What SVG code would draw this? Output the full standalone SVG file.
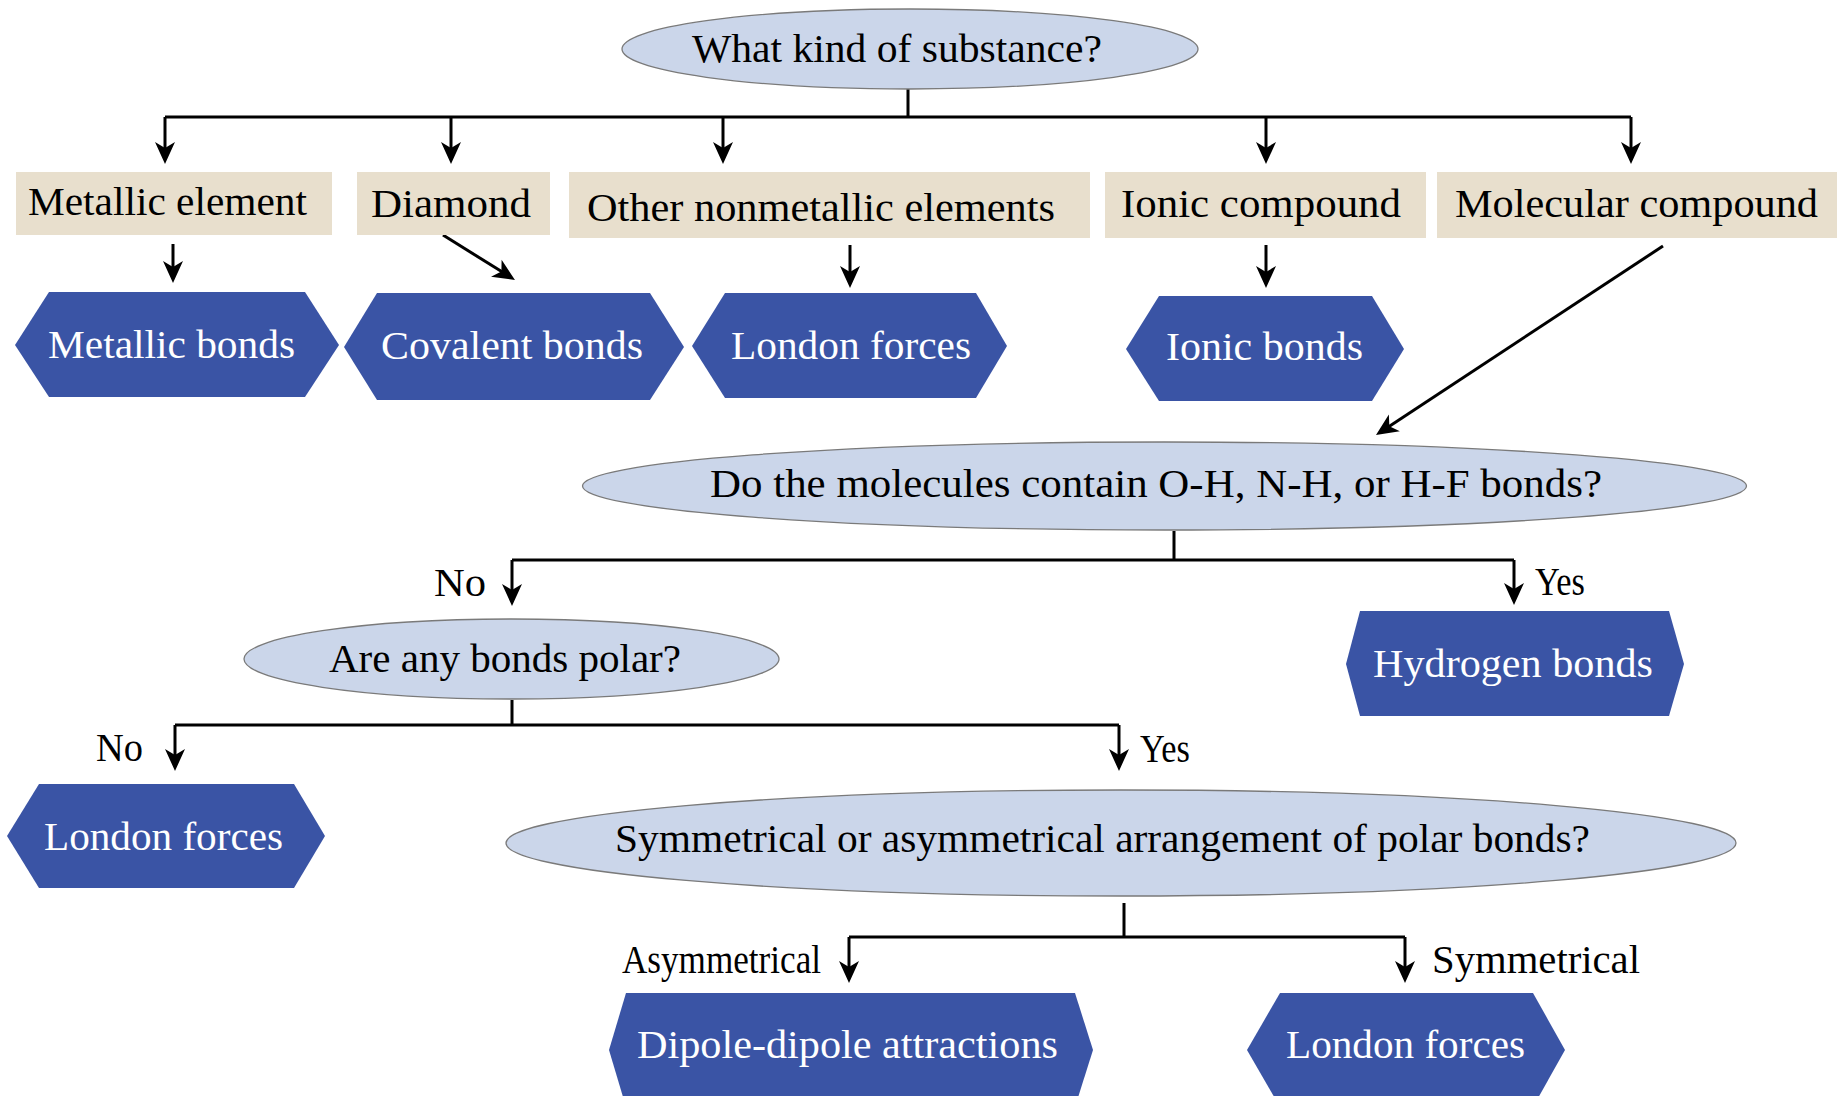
<svg xmlns="http://www.w3.org/2000/svg" width="1837" height="1096" viewBox="0 0 1837 1096">
<style>
text{font-family:"Liberation Serif","Times New Roman",serif;font-size:41px;text-anchor:middle}
.q{fill:#cbd6ea;stroke:#7a7a7a;stroke-width:1.3}
.t{fill:#e8dfcd}
.h{fill:#3a54a5}
.w{fill:#ffffff}
.k{fill:#000000}
.c{fill:none;stroke:#000;stroke-width:3;marker-end:url(#ah)}
.n{fill:none;stroke:#000;stroke-width:3}
</style>
<defs>
<marker id="ah" markerUnits="userSpaceOnUse" viewBox="-12 -12 28 24" markerWidth="28" markerHeight="24" refX="0" refY="0" orient="auto">
<path d="M12,0 L-10,-10 L-4,0 L-10,10 Z" fill="#000"/>
</marker>
</defs>
<rect width="1837" height="1096" fill="#fff"/>

<g id="connectors">
<path class="n" d="M908,89 V117 M165,117 H1631"/>
<path class="c" d="M165,117 V152"/>
<path class="c" d="M451,117 V152"/>
<path class="c" d="M723,117 V152"/>
<path class="c" d="M1266,117 V152"/>
<path class="c" d="M1631,117 V152"/>
<path class="c" d="M173,244 V271"/>
<path class="c" d="M443,235 L504.8,273.6"/>
<path class="c" d="M850,245 V276"/>
<path class="c" d="M1266,245 V276"/>
<path class="c" d="M1663,246 L1386,428.4"/>
<path class="n" d="M1174,531 V560 M512,560 H1514"/>
<path class="c" d="M512,560 V594"/>
<path class="c" d="M1514,560 V593"/>
<path class="n" d="M512,700 V725 M175,725 H1119"/>
<path class="c" d="M175,725 V759"/>
<path class="c" d="M1119,725 V759"/>
<path class="n" d="M1124,903 V937 M849,937 H1405"/>
<path class="c" d="M849,937 V971"/>
<path class="c" d="M1405,937 V971"/>
<text class="k" x="460" y="596" textLength="52" lengthAdjust="spacingAndGlyphs">No</text>
<text class="k" x="1560" y="595" textLength="50" lengthAdjust="spacingAndGlyphs">Yes</text>
<text class="k" x="119.5" y="761" textLength="47" lengthAdjust="spacingAndGlyphs">No</text>
<text class="k" x="1165" y="762" textLength="50" lengthAdjust="spacingAndGlyphs">Yes</text>
<text class="k" x="721.5" y="973" textLength="199" lengthAdjust="spacingAndGlyphs">Asymmetrical</text>
<text class="k" x="1536" y="973" textLength="208" lengthAdjust="spacingAndGlyphs">Symmetrical</text>
</g>

<g id="q-substance">
<ellipse class="q" cx="910" cy="49" rx="288" ry="40"/>
<text class="k" x="897" y="62" textLength="410" lengthAdjust="spacingAndGlyphs">What kind of substance?</text>
</g>

<g id="metallic-element">
<rect class="t" x="16" y="172" width="316" height="63"/>
<text class="k" x="167.5" y="215" textLength="279" lengthAdjust="spacingAndGlyphs">Metallic element</text>
</g>
<g id="diamond">
<rect class="t" x="357" y="172" width="193" height="63"/>
<text class="k" x="451" y="217" textLength="160" lengthAdjust="spacingAndGlyphs">Diamond</text>
</g>
<g id="other-nonmetallic">
<rect class="t" x="569" y="172" width="521" height="66"/>
<text class="k" x="821" y="221" textLength="468" lengthAdjust="spacingAndGlyphs">Other nonmetallic elements</text>
</g>
<g id="ionic-compound">
<rect class="t" x="1105" y="172" width="321" height="66"/>
<text class="k" x="1261" y="217" textLength="280" lengthAdjust="spacingAndGlyphs">Ionic compound</text>
</g>
<g id="molecular-compound">
<rect class="t" x="1437" y="172" width="400" height="66"/>
<text class="k" x="1636.5" y="217" textLength="363" lengthAdjust="spacingAndGlyphs">Molecular compound</text>
</g>

<g id="metallic-bonds">
<polygon class="h" points="15,345 49,292 305,292 339,345 305,397 49,397"/>
<text class="w" x="171.5" y="358" textLength="247" lengthAdjust="spacingAndGlyphs">Metallic bonds</text>
</g>
<g id="covalent-bonds">
<polygon class="h" points="344,347 377,293 650,293 684,347 650,400 377,400"/>
<text class="w" x="512" y="359" textLength="262" lengthAdjust="spacingAndGlyphs">Covalent bonds</text>
</g>
<g id="london-forces-1">
<polygon class="h" points="692,346 725,293 976,293 1007,346 976,398 725,398"/>
<text class="w" x="851" y="359" textLength="240" lengthAdjust="spacingAndGlyphs">London forces</text>
</g>
<g id="ionic-bonds">
<polygon class="h" points="1126,349 1159,296 1372,296 1404,349 1372,401 1159,401"/>
<text class="w" x="1264.5" y="360" textLength="197" lengthAdjust="spacingAndGlyphs">Ionic bonds</text>
</g>

<g id="q-hbond">
<ellipse class="q" cx="1164.5" cy="486" rx="582" ry="44"/>
<text class="k" x="1156" y="497" textLength="892" lengthAdjust="spacingAndGlyphs">Do the molecules contain O-H, N-H, or H-F bonds?</text>
</g>

<g id="hydrogen-bonds">
<polygon class="h" points="1346,664 1360,611 1669,611 1684,664 1669,716 1360,716"/>
<text class="w" x="1513" y="677" textLength="280" lengthAdjust="spacingAndGlyphs">Hydrogen bonds</text>
</g>

<g id="q-polar">
<ellipse class="q" cx="511.5" cy="659" rx="267.5" ry="40"/>
<text class="k" x="505" y="672" textLength="352" lengthAdjust="spacingAndGlyphs">Are any bonds polar?</text>
</g>

<g id="london-forces-2">
<polygon class="h" points="7,836 39,784 294,784 325,836 294,888 39,888"/>
<text class="w" x="163.5" y="850" textLength="239" lengthAdjust="spacingAndGlyphs">London forces</text>
</g>

<g id="q-symmetry">
<ellipse class="q" cx="1121" cy="843" rx="615" ry="53"/>
<text class="k" x="1102.5" y="852" textLength="975" lengthAdjust="spacingAndGlyphs">Symmetrical or asymmetrical arrangement of polar bonds?</text>
</g>

<g id="dipole-dipole">
<polygon class="h" points="609,1050 626,993 1075,993 1093,1050 1075,1107 626,1107"/>
<text class="w" x="847.5" y="1058" textLength="421" lengthAdjust="spacingAndGlyphs">Dipole-dipole attractions</text>
</g>
<g id="london-forces-3">
<polygon class="h" points="1247,1050 1280,993 1533,993 1565,1050 1533,1107 1280,1107"/>
<text class="w" x="1405.5" y="1058" textLength="239" lengthAdjust="spacingAndGlyphs">London forces</text>
</g>
</svg>
